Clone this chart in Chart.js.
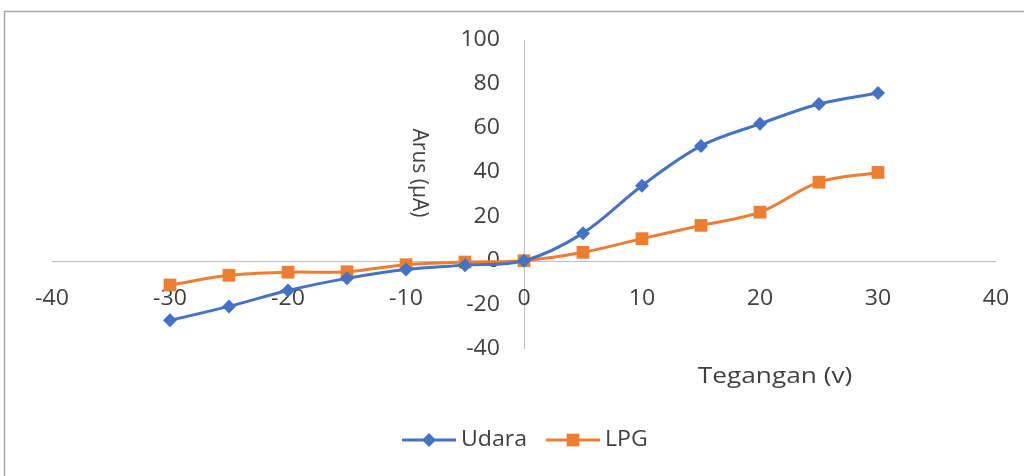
<!DOCTYPE html>
<html>
<head>
<meta charset="utf-8">
<title>Arus vs Tegangan</title>
<script src="https://cdn.jsdelivr.net/npm/chart.js@4.4.1/dist/chart.umd.min.js"></script>
<style>
    html, body { margin: 0; padding: 0; background: #ffffff; }
    #wrap { position: relative; width: 1024px; height: 476px; }
    canvas { display: block; }
</style>
</head>
<body>
<div id="wrap"><canvas id="ivChart" width="1024" height="476"></canvas></div>
<script>
// Measured sweep: voltage (V) against current (uA)
const voltage = [-30, -25, -20, -15, -10, -5, 0, 5, 10, 15, 20, 25, 30];
const udara   = [-27, -20.7, -13.5, -8, -4, -2, 0, 12.5, 34, 52, 62, 71, 76];
const lpg     = [-11, -6.6, -5.2, -5, -1.8, -0.6, 0, 3.8, 10, 16, 22, 35.6, 40];

const xTicks = [-40, -30, -20, -10, 0, 10, 20, 30, 40];
const yTicks = [-40, -20, 0, 20, 40, 60, 80, 100];

const seriesNames = ['Udara', 'LPG'];
const BLUE = '#4472C4';
const ORANGE = '#ED7D31';
const FONT = '"Open Sans", "Liberation Sans", sans-serif';
const TEXT = '#404040';
const AXIS = '#BFBFBF';

function toPoints(xs, ys) {
    return xs.map((x, i) => ({ x: x, y: ys[i] }));
}

// Text with a little horizontal stretch, anchored by the current textAlign
function wideText(ctx, str, x, y, sx) {
    ctx.save();
    ctx.translate(x, y);
    ctx.scale(sx, 1);
    ctx.fillText(str, 0, 0);
    ctx.restore();
}

// Axes cross at the origin, so lines, ticks and titles are drawn by hand
const crossAxes = {
    id: 'crossAxes',
    beforeDatasetsDraw(chart) {
        const ctx = chart.ctx;
        const xs = chart.scales.x;
        const ys = chart.scales.y;
        const x0 = xs.getPixelForValue(0);
        const y0 = ys.getPixelForValue(0);

        ctx.save();

        // outer frame
        ctx.strokeStyle = '#A6A6A6';
        ctx.lineWidth = 1.5;
        ctx.strokeRect(4.5, 11.5, 1030, 480);

        ctx.strokeStyle = AXIS;
        ctx.lineWidth = 1;
        ctx.beginPath();
        ctx.moveTo(xs.getPixelForValue(xTicks[0]), Math.round(y0) + 0.5);
        ctx.lineTo(xs.getPixelForValue(xTicks[xTicks.length - 1]), Math.round(y0) + 0.5);
        ctx.moveTo(Math.round(x0) + 0.5, ys.getPixelForValue(yTicks[yTicks.length - 1]));
        ctx.lineTo(Math.round(x0) + 0.5, ys.getPixelForValue(yTicks[0]));
        ctx.stroke();

        ctx.fillStyle = TEXT;
        ctx.font = '21px ' + FONT;

        // y tick labels, right aligned just left of the vertical axis
        ctx.textAlign = 'right';
        ctx.textBaseline = 'middle';
        yTicks.forEach(v => {
            wideText(ctx, String(v), x0 - 24, ys.getPixelForValue(v), 1.1);
        });

        // x tick labels, below the horizontal axis
        ctx.textAlign = 'center';
        xTicks.forEach(v => {
            wideText(ctx, String(v), xs.getPixelForValue(v), y0 + 38, 1.1);
        });

        // axis titles
        wideText(ctx, 'Tegangan (v)', 775, 377, 1.25);
        ctx.translate(419, 173);
        ctx.rotate(Math.PI / 2);
        ctx.fillText('Arus (µA)', 0, 0);

        ctx.restore();
    },
    afterDraw(chart) {
        // legend: line with marker, then the name
        const ctx = chart.ctx;
        const entries = [
            { name: seriesNames[0], color: BLUE, left: 402, style: 'rectRot', r: 7 },
            { name: seriesNames[1], color: ORANGE, left: 546, style: 'rect', r: 9 }
        ];
        const y = 440;
        ctx.save();
        entries.forEach(e => {
            ctx.strokeStyle = e.color;
            ctx.lineWidth = 3;
            ctx.beginPath();
            ctx.moveTo(e.left, y);
            ctx.lineTo(e.left + 54, y);
            ctx.stroke();
            ctx.fillStyle = e.color;
            Chart.helpers.drawPoint(ctx, { pointStyle: e.style, radius: e.r, borderWidth: 0 }, e.left + 27, y);
            ctx.fillStyle = TEXT;
            ctx.font = '21px ' + FONT;
            ctx.textAlign = 'left';
            ctx.textBaseline = 'middle';
            wideText(ctx, e.name, e.left + 59, y, 1.1);
        });
        ctx.restore();
    }
};

new Chart(document.getElementById('ivChart'), {
    type: 'scatter',
    data: {
        datasets: [
            {
                label: seriesNames[0],
                data: toPoints(voltage, udara),
                showLine: true,
                borderColor: BLUE,
                backgroundColor: BLUE,
                borderWidth: 3,
                tension: 0.35,
                pointStyle: 'rectRot',
                pointRadius: 7,
                pointBorderWidth: 0
            },
            {
                label: seriesNames[1],
                data: toPoints(voltage, lpg),
                showLine: true,
                borderColor: ORANGE,
                backgroundColor: ORANGE,
                borderWidth: 3,
                tension: 0.35,
                pointStyle: 'rect',
                pointRadius: 9,
                pointBorderWidth: 0
            }
        ]
    },
    options: {
        responsive: false,
        animation: false,
        layout: {
            padding: { left: 52, right: 28, top: 40, bottom: 127 }
        },
        scales: {
            x: { type: 'linear', min: -40, max: 40, display: false },
            y: { type: 'linear', min: -40, max: 100, display: false }
        },
        plugins: {
            legend: { display: false },
            tooltip: { enabled: false }
        }
    },
    plugins: [crossAxes]
});
</script>
</body>
</html>
